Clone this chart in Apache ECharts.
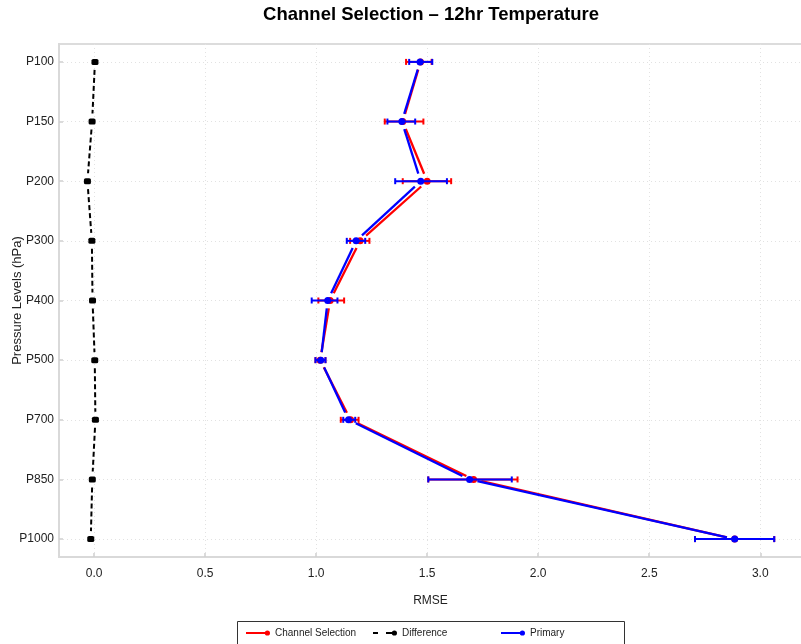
<!DOCTYPE html>
<html>
<head>
<meta charset="utf-8">
<script src="https://cdn.jsdelivr.net/npm/echarts@6/dist/echarts.min.js"></script>
<style>
  html, body { margin: 0; padding: 0; background: #fff; }
  #chart { width: 801px; height: 644px; }
</style>
</head>
<body>
<div id="chart"></div>
<script>
// Pressure levels, top to bottom
const levels = ['P100', 'P150', 'P200', 'P300', 'P400', 'P500', 'P700', 'P850', 'P1000'];

// Channel Selection RMSE with confidence bounds
const channelMean = [1.470, 1.390, 1.500, 1.198, 1.063, 1.018, 1.155, 1.709, 2.885];
const channelLow  = [1.405, 1.309, 1.390, 1.153, 1.010, 0.997, 1.111, 1.505, 2.706];
const channelHigh = [1.520, 1.483, 1.608, 1.240, 1.126, 1.042, 1.191, 1.907, 3.063];

// Primary RMSE with confidence bounds
const primaryMean = [1.468, 1.386, 1.471, 1.180, 1.052, 1.021, 1.146, 1.691, 2.885];
const primaryLow  = [1.419, 1.321, 1.356, 1.138, 0.980, 0.997, 1.122, 1.505, 2.706];
const primaryHigh = [1.523, 1.446, 1.589, 1.221, 1.096, 1.042, 1.176, 1.881, 3.063];

// Difference between the two runs
const difference = [0.004, -0.009, -0.030, -0.010, -0.007, 0.003, 0.006, -0.008, -0.015];

// RMSE tick values
const rmseTicks = [0, 0.5, 1.0, 1.5, 2.0, 2.5, 3.0];

const FONT = 'Liberation Sans, Arial, sans-serif';
const levelIdx = levels.map((_, i) => i);
const toPoints = vals => vals.map((v, i) => [v, i]);
const toBars = (lo, hi) => lo.map((l, i) => [l, hi[i], i]);
// consecutive pairs of points: [x0, y0, x1, y1]
const toSegments = vals => vals.slice(1).map((v, i) => [vals[i], i, v, i + 1]);

function errorBarSeries(name, color, lo, hi, z) {
  return {
    type: 'custom',
    name: name,
    data: toBars(lo, hi),
    encode: { x: [0, 1], y: 2 },
    itemStyle: { color: color },
    silent: true,
    renderItem: function (params, api) {
      const a = api.coord([api.value(0), api.value(2)]);
      const b = api.coord([api.value(1), api.value(2)]);
      const h = 3;
      const style = { stroke: color, lineWidth: 2 };
      return {
        type: 'group',
        children: [
          { type: 'line', shape: { x1: a[0], y1: a[1], x2: b[0], y2: b[1] }, style: style },
          { type: 'line', shape: { x1: a[0], y1: a[1] - h, x2: a[0], y2: a[1] + h }, style: style },
          { type: 'line', shape: { x1: b[0], y1: b[1] - h, x2: b[0], y2: b[1] + h }, style: style }
        ]
      };
    },
    z: z
  };
}

// connecting segments that stop short of each point marker
function segmentSeries(name, color, vals, width, dash, z) {
  const gap = 8;
  return {
    type: 'custom',
    name: name,
    data: toSegments(vals),
    encode: { x: [0, 2], y: [1, 3] },
    silent: true,
    renderItem: function (params, api) {
      const a = api.coord([api.value(0), api.value(1)]);
      const b = api.coord([api.value(2), api.value(3)]);
      const dx = b[0] - a[0], dy = b[1] - a[1];
      const len = Math.sqrt(dx * dx + dy * dy);
      if (len <= 2 * gap) return null;
      const ux = dx / len, uy = dy / len;
      return {
        type: 'line',
        shape: { x1: a[0] + ux * gap, y1: a[1] + uy * gap, x2: b[0] - ux * gap, y2: b[1] - uy * gap },
        style: { stroke: color, lineWidth: width, lineDash: dash, lineCap: 'butt' }
      };
    },
    z: z
  };
}

function pointSeries(name, color, vals, symbol, size, z) {
  return {
    type: 'scatter',
    name: name,
    data: toPoints(vals),
    symbol: symbol,
    symbolSize: size,
    itemStyle: { color: color, opacity: 1 },
    silent: true,
    z: z
  };
}

const iconSolid = 'path://M0,3 L19,3 L19,5 L0,5 Z M24,4 A2.6,2.6 0 1 1 18.8,4 A2.6,2.6 0 1 1 24,4 Z';
const iconDashed = 'path://M0,3 L5,3 L5,5 L0,5 Z M13,3 L19,3 L19,5 L13,5 Z M24,4 A2.6,2.6 0 1 1 18.8,4 A2.6,2.6 0 1 1 24,4 Z';

function legendAt(left, name, icon, color) {
  return {
    left: left,
    top: 628,
    padding: 0,
    itemGap: 0,
    itemWidth: 24,
    itemHeight: 8,
    selectedMode: false,
    textStyle: { fontSize: 10, color: '#222', fontFamily: FONT },
    data: [{ name: name, icon: icon, itemStyle: { color: color } }]
  };
}

const chart = echarts.init(document.getElementById('chart'));
chart.setOption({
  backgroundColor: '#fff',
  animation: false,
  textStyle: { fontFamily: FONT },
  title: {
    text: 'Channel Selection \u2013 12hr Temperature',
    left: 426,
    top: 0,
    textAlign: 'center',
    textStyle: { fontSize: 18.5, fontWeight: 'bold', color: '#000', fontFamily: FONT }
  },
  legend: [
    legendAt(246, 'Channel Selection', iconSolid, '#ff0000'),
    legendAt(373, 'Difference', iconDashed, '#000'),
    legendAt(501, 'Primary', iconSolid, '#0000ff')
  ],
  graphic: [{
    type: 'rect',
    shape: { x: 237.5, y: 621.5, width: 387, height: 40 },
    style: { fill: 'none', stroke: '#333', lineWidth: 1 },
    silent: true
  }],
  grid: {
    left: 59, right: -1, top: 44, bottom: 87,
    containLabel: false,
    outerBoundsMode: 'none',
    show: true, borderColor: '#dcdcdc', borderWidth: 2
  },
  xAxis: {
    type: 'value',
    min: -0.158,
    max: 3.188,
    name: 'RMSE',
    nameLocation: 'middle',
    nameGap: 38,
    nameTextStyle: { fontSize: 12, color: '#222' },
    axisLine: { show: true, onZero: false, lineStyle: { color: '#d9d9d9', width: 2 } },
    axisTick: { show: true, inside: true, length: 4, customValues: rmseTicks, lineStyle: { color: '#cfcfcf', width: 1.5 } },
    axisLabel: { customValues: rmseTicks, margin: 11, fontSize: 12, color: '#222', formatter: v => v.toFixed(1) },
    splitLine: { show: true, lineStyle: { color: '#e2e2e2', type: [1, 3], width: 1 } }
  },
  yAxis: {
    type: 'value',
    inverse: true,
    min: -0.3,
    max: 8.3,
    name: 'Pressure Levels (hPa)',
    nameLocation: 'middle',
    nameGap: 35,
    nameMoveOverlap: false,
    nameTextStyle: { fontSize: 13, color: '#222' },
    axisLine: { show: true, onZero: false, lineStyle: { color: '#d9d9d9', width: 2 } },
    axisTick: { show: true, inside: true, length: 4, customValues: levelIdx, lineStyle: { color: '#cfcfcf', width: 1.5 } },
    axisLabel: { customValues: levelIdx, margin: 5, fontSize: 12, color: '#222', formatter: v => levels[Math.round(v)] },
    splitLine: { show: true, lineStyle: { color: '#e2e2e2', type: [1, 3], width: 1 } }
  },
  series: [
    errorBarSeries('Channel Selection', '#ff0000', channelLow, channelHigh, 2),
    segmentSeries('Channel Selection', '#ff0000', channelMean, 2.3, null, 3),
    pointSeries('Channel Selection', '#ff0000', channelMean, 'circle', 7, 4),
    errorBarSeries('Primary', '#0000ff', primaryLow, primaryHigh, 5),
    segmentSeries('Primary', '#0000ff', primaryMean, 2.3, null, 6),
    pointSeries('Primary', '#0000ff', primaryMean, 'circle', 7, 7),
    segmentSeries('Difference', '#000', difference, 2, [5, 3], 8),
    pointSeries('Difference', '#000', difference, 'roundRect', [7, 6], 9)
  ]
});
</script>
</body>
</html>
